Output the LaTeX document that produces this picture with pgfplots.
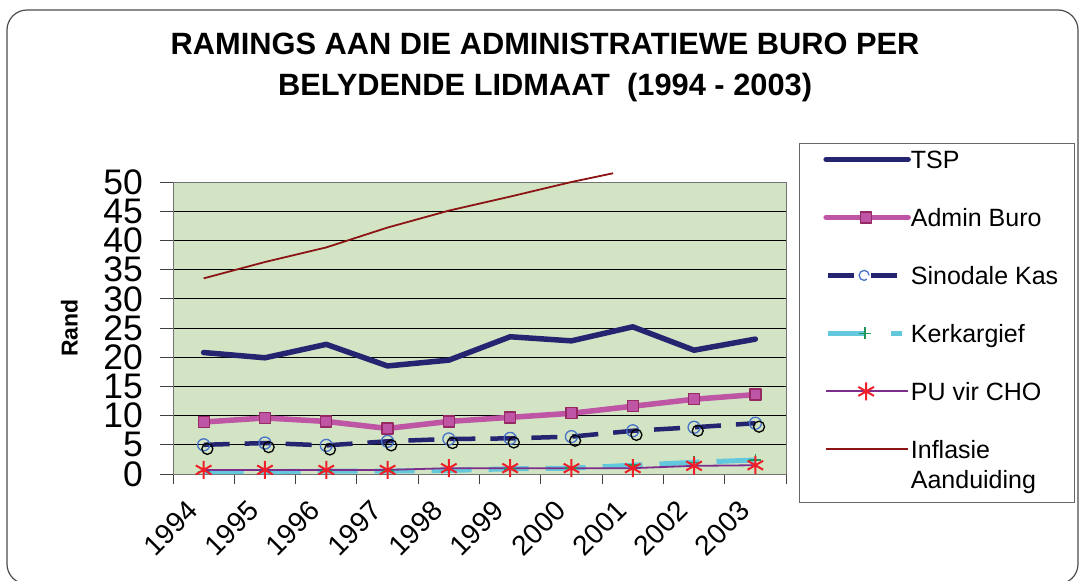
\documentclass[border=0pt]{standalone}
\usepackage{pgfplots}
\pgfplotsset{compat=1.18}
\usepackage{fontspec}
\setmainfont{Liberation Sans}
\definecolor{tspblue}{RGB}{36,36,112}
\definecolor{adminpink}{RGB}{190,85,165}
\definecolor{admindark}{RGB}{150,40,100}
\definecolor{circblue}{RGB}{70,115,200}
\definecolor{kercyan}{RGB}{100,200,220}
\definecolor{kergreen}{RGB}{30,150,90}
\definecolor{pupurple}{RGB}{125,45,140}
\definecolor{pured}{RGB}{240,30,40}
\definecolor{infred}{RGB}{140,20,20}
\definecolor{bggreen}{RGB}{210,228,196}
\begin{document}
\begin{tikzpicture}
\useasboundingbox (0pt,0pt) rectangle (1079pt,-581pt);
\draw[line width=1.2pt, black!70, rounded corners=20pt] (7pt,-10pt) rectangle (1078pt,-584pt);
\begin{axis}[
  at={(173pt,-474pt)}, anchor=south west,
  scale only axis, width=613pt, height=292pt,
  xmin=-0.5, xmax=9.5, ymin=0, ymax=50,
  clip=false,
  axis background/.style={fill=bggreen},
  axis line style={black!55, line width=1pt},
  ymajorgrids, grid style={black, line width=0.8pt},
  ytick={0,5,...,50},
  xtick={0,...,9},
  xticklabels={1994,1995,1996,1997,1998,1999,2000,2001,2002,2003},
  minor xtick={-0.5,0.5,...,9.5},
  tick align=outside,
  major tick length=13pt, minor tick length=10pt,
  every major x tick/.append style={draw=none},
  tick style={black!75, line width=1pt},
  xtick pos=bottom, ytick pos=left,
  /pgf/number format/assume math mode=true,
  yticklabel style={font=\fontsize{35.5}{35.5}\selectfont, anchor=east, inner sep=0pt, xshift=-17pt},
  xticklabel style={font=\fontsize{28}{28}\selectfont, inner sep=0pt, xshift=-11pt, yshift=-19pt, rotate=45, anchor=east},
  ylabel={Rand},
  ylabel style={font=\bfseries\fontsize{23}{23}\selectfont, at={(axis description cs:0,0.5)}, anchor=south, inner sep=0pt, yshift=95pt},
  title={RAMINGS AAN DIE ADMINISTRATIEWE BURO PER\\BELYDENDE LIDMAAT\ \ (1994 - 2003)},
  title style={at={(axis description cs:0.607,1.4897)}, anchor=north, inner sep=0pt, align=center, font=\bfseries\fontsize{30.8}{41}\selectfont},
  legend style={at={(axis description cs:1.0212,1.1336)}, anchor=north west, draw=black!60, line width=0.8pt, fill=white,
    inner xsep=16pt, inner ysep=5pt, row sep=32pt,
    font=\fontsize{25}{30}\selectfont,
    nodes={inner sep=0pt, text height=20pt, text depth=6pt},
    cells={anchor=base west}},
  legend image code/.code={
    \path (0pt,9pt) (89pt,9pt);
    \draw[#1, mark repeat=2, mark phase=2] plot coordinates {(8pt,9pt) (48pt,9pt) (90pt,9pt)};
  },
]
% TSP
\addplot[tspblue, line width=5.5pt, line cap=round, line join=round] coordinates {
(0,20.8) (1,19.9) (2,22.2) (3,18.5) (4,19.5) (5,23.5) (6,22.8) (7,25.2) (8,21.2) (9,23.1)};
\addlegendentry{TSP}
% Admin Buro
\addplot[adminpink, line width=5.5pt, line cap=round, line join=round, mark=square*, mark size=5.5pt,
  mark options={draw=admindark, fill=adminpink, line width=1.3pt, solid}] coordinates {
(0,8.9) (1,9.6) (2,9.0) (3,7.8) (4,9.0) (5,9.7) (6,10.4) (7,11.6) (8,12.8) (9,13.6)};
\addlegendentry{Admin Buro}
% Sinodale Kas
\addplot[tspblue, line width=4.5pt, dash pattern=on 26pt off 15pt, mark=o, mark size=6pt,
  mark options={draw=circblue, line width=1.3pt, solid},
  legend image code/.code={
    \path (0pt,9pt) (89pt,9pt);
    \draw[tspblue, line width=4.5pt] (10pt,9pt) -- (36pt,9pt);
    \draw[tspblue, line width=4.5pt] (53pt,9pt) -- (80pt,9pt);
    \draw[circblue, fill=white, line width=1.3pt] (46pt,9pt) circle (5pt);
  }] coordinates {
(0,5.0) (1,5.3) (2,4.9) (3,5.6) (4,6.0) (5,6.1) (6,6.4) (7,7.4) (8,8.0) (9,8.7)};
\addlegendentry{Sinodale Kas}
% Kerkargief
\addplot[kercyan, line width=5pt, dash pattern=on 40pt off 17pt, mark=+, mark size=6pt,
  mark options={draw=kergreen, line width=1.5pt, solid},
  legend image code/.code={
    \path (0pt,9pt) (89pt,9pt);
    \draw[kercyan, line width=5pt] (10pt,9pt) -- (48pt,9pt);
    \draw[kercyan, line width=5pt] (73pt,9pt) -- (84pt,9pt);
    \draw[kergreen, line width=1.5pt] (41pt,9pt) -- (53pt,9pt) (47pt,3pt) -- (47pt,15pt);
  }] coordinates {
(0,0.4) (1,0.4) (2,0.5) (3,0.5) (4,0.6) (5,0.9) (6,1.0) (7,1.5) (8,2.0) (9,2.4)};
\addlegendentry{Kerkargief}
% PU vir CHO
\addplot[pupurple, line width=1.8pt, mark=asterisk, mark size=9pt,
  mark options={draw=pured, line width=2pt, solid}] coordinates {
(0,0.7) (1,0.7) (2,0.7) (3,0.7) (4,1.0) (5,1.0) (6,1.0) (7,1.0) (8,1.4) (9,1.5)};
\addlegendentry{PU vir CHO}
% Inflasie
\addplot[infred, line width=1.8pt] coordinates {
(0,33.5) (1,36.3) (2,38.8) (3,42.2) (4,45.1) (5,47.5) (6,50.0) (6.68,51.5)};
\addlegendentry[text depth=]{\begin{tabular}[t]{@{}l@{}}Inflasie\\Aanduiding\end{tabular}}
% shadow circles
\addplot[forget plot, only marks, mark=o, mark size=5.5pt, mark options={draw=black, line width=1.3pt}] coordinates {
(0.06,4.3) (1.06,4.6) (2.06,4.2) (3.06,4.9) (4.06,5.3) (5.06,5.4) (6.06,5.7) (7.06,6.7) (8.06,7.4) (9.06,8.1)};
\end{axis}
\end{tikzpicture}
\end{document}
